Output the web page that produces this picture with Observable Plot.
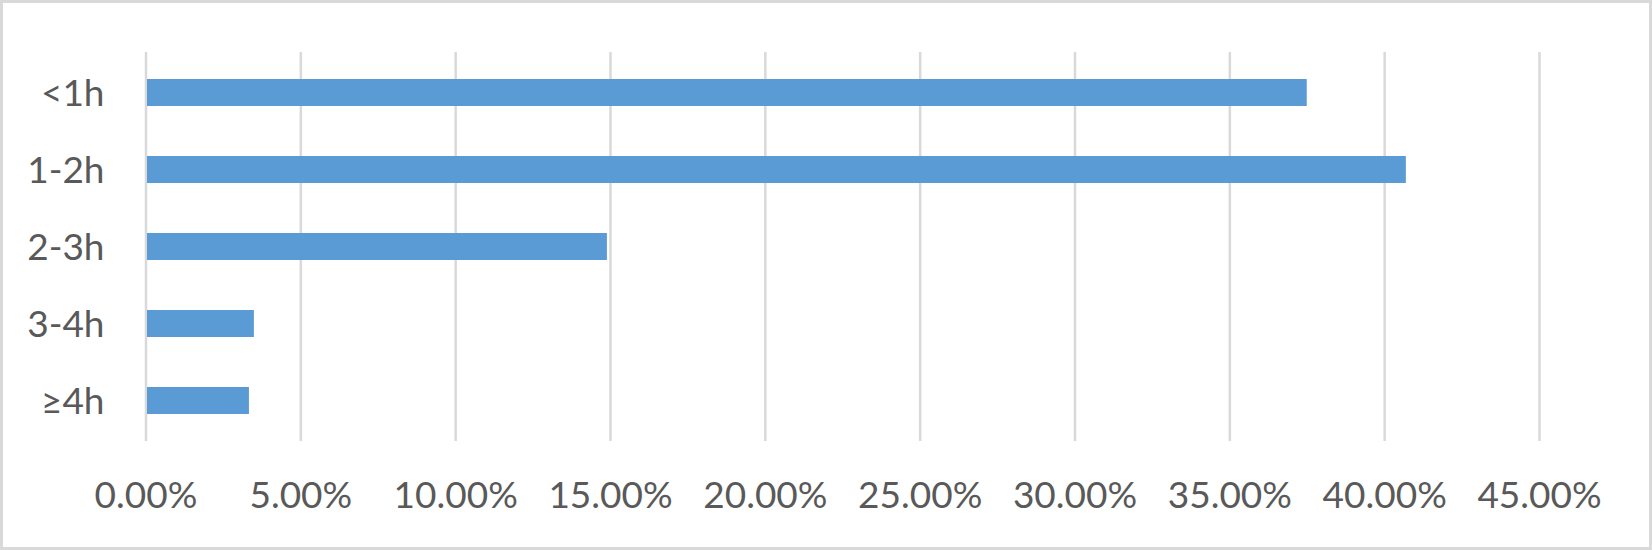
<!DOCTYPE html>
<html>
<head>
<meta charset="utf-8">
<script src="https://cdn.jsdelivr.net/npm/d3@7"></script>
<script src="https://cdn.jsdelivr.net/npm/@observablehq/plot@0.6"></script>
<style>
  html, body { margin: 0; padding: 0; background: #ffffff; }
  #wrap { position: relative; width: 1652px; height: 550px; overflow: hidden; }
  #border { position: absolute; left: 0; top: 0; width: 1652px; height: 550px; box-sizing: border-box; border: 3px solid #d9d9d9; pointer-events: none; }
</style>
</head>
<body>
<div id="wrap"><div id="chart"></div><div id="border"></div></div>
<script>
const categories = ["<1h", "1-2h", "2-3h", "3-4h", "≥4h"];
const shares = [37.5, 40.7, 14.9, 3.5, 3.34];
const xTicks = [0, 5, 10, 15, 20, 25, 30, 35, 40, 45];

const data = categories.map((c, i) => ({cat: c, value: shares[i]}));

const chart = Plot.plot({
  width: 1652,
  height: 550,
  marginLeft: 145.5,
  marginRight: 113,
  marginTop: 52,
  marginBottom: 109,
  style: {fontFamily: "Lato, 'Open Sans', sans-serif", fontSize: "37px", color: "#595959", background: "#ffffff"},
  x: {domain: [0, 45], ticks: xTicks, tickFormat: d => d.toFixed(2) + "%"},
  y: {domain: categories, paddingInner: 0.654, paddingOuter: 0.327},
  marks: [
    Plot.ruleX(xTicks, {stroke: "#d9d9d9", strokeWidth: 2.5}),
    Plot.barX(data, {x: "value", y: "cat", fill: "#5b9bd5", insetLeft: 1.5}),
    Plot.axisX({ticks: xTicks, tickSize: 0, tickPadding: 40.5, fontSize: 37, fill: "#595959", tickFormat: d => d.toFixed(2) + "%", label: null}),
    Plot.axisY({tickSize: 0, tickPadding: 41.5, fontSize: 37, fill: "#595959", dy: 1, label: null})
  ]
});
document.getElementById("chart").appendChild(chart);
</script>
</body>
</html>
